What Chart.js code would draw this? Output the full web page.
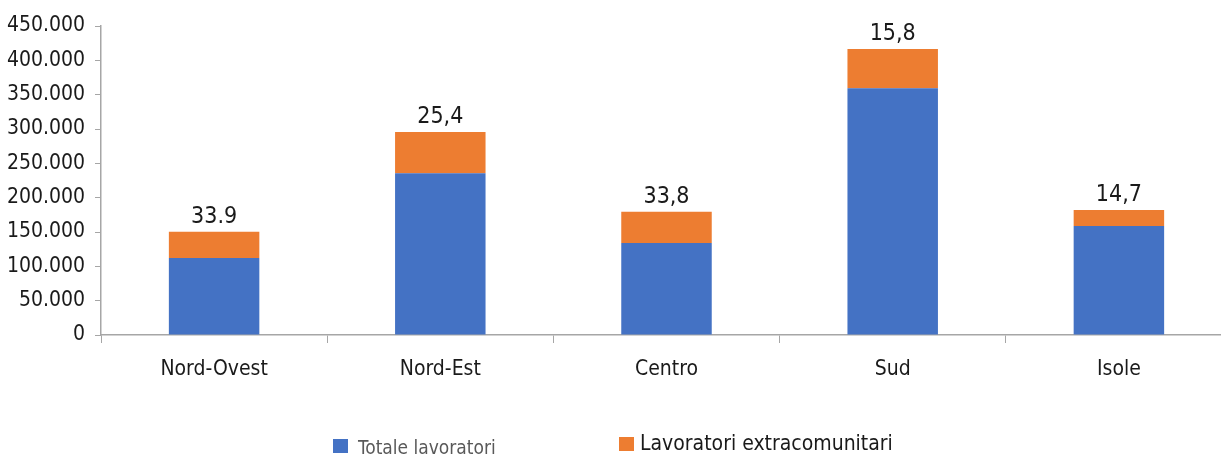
<!DOCTYPE html>
<html>
<head>
<meta charset="utf-8">
<script src="https://cdn.jsdelivr.net/npm/chart.js@4"></script>
<style>
  html, body { margin: 0; padding: 0; background: #fff; overflow: hidden; }
  #wrap { position: relative; width: 1221px; height: 455px; overflow: hidden; }
  #capacityChart { position: absolute; left: 0; top: 0; }
  .legend-box { position: absolute; width: 15px; height: 14px; }
  .legend-text { position: absolute; white-space: nowrap; line-height: 1;
                 font-family: "Liberation Sans Narrow", "Arial Narrow", "DejaVu Sans Condensed", sans-serif; }
</style>
</head>
<body>
<div id="wrap">
  <canvas id="capacityChart" width="1240" height="455"></canvas>
  <div id="legend"></div>
</div>
<script>
// Regioni e valori
const categories = ["Nord-Ovest", "Nord-Est", "Centro", "Sud", "Isole"];
const totaleLavoratori = [112000, 235500, 134000, 359500, 158700];
const extracomunitari = [38500, 60000, 45500, 57000, 23200];
const percentLabels = ["33.9", "25,4", "33,8", "15,8", "14,7"];
const yTicks = [0, 50000, 100000, 150000, 200000, 250000, 300000, 350000, 400000, 450000];

const FONT = '"Liberation Sans Narrow", "Arial Narrow", "DejaVu Sans Condensed", sans-serif';
const blue = '#4472C4';
const orange = '#ED7D31';
const axisGrey = '#A6A6A6';

// etichette percentuali sopra le colonne
const topLabels = {
    id: 'topLabels',
    afterDatasetsDraw(chart) {
        const ctx = chart.ctx;
        const meta = chart.getDatasetMeta(1);
        ctx.save();
        ctx.font = '23px ' + FONT;
        ctx.fillStyle = '#1a1a1a';
        ctx.textAlign = 'center';
        ctx.textBaseline = 'alphabetic';
        meta.data.forEach(function(bar, i) {
            ctx.fillText(percentLabels[i], bar.x, bar.y - 9);
        });
        ctx.restore();
    }
};

const ctx = document.getElementById('capacityChart').getContext('2d');
const chart = new Chart(ctx, {
    type: 'bar',
    data: {
        labels: categories,
        datasets: [
            { label: 'Totale lavoratori', data: totaleLavoratori, backgroundColor: blue },
            { label: 'Lavoratori extracomunitari', data: extracomunitari, backgroundColor: orange }
        ]
    },
    options: {
        responsive: false,
        animation: false,
        layout: { padding: { top: 26, right: 8, left: 0, bottom: 0 } },
        datasets: { bar: { barPercentage: 0.8, categoryPercentage: 0.5 } },
        plugins: {
            legend: { display: false },
            tooltip: { enabled: false }
        },
        scales: {
            x: {
                stacked: true,
                grid: { drawOnChartArea: false, color: axisGrey, tickLength: 8, offset: true },
                border: { color: axisGrey, width: 1.5 },
                ticks: { color: '#1a1a1a', font: { family: FONT, size: 21 }, padding: 14 },
                afterFit: function(scale) { scale.height = 120; }
            },
            y: {
                stacked: true,
                min: 0,
                max: 450000,
                afterBuildTicks: function(scale) { scale.ticks = yTicks.map(v => ({ value: v })); },
                grid: { drawOnChartArea: false, color: axisGrey, tickLength: 6 },
                border: { color: axisGrey, width: 1.5 },
                ticks: {
                    color: '#1a1a1a',
                    font: { family: FONT, size: 21 },
                    padding: 10,
                    callback: function(v) { return v === 0 ? '0' : v.toLocaleString('it-IT'); }
                },
                afterFit: function(scale) { scale.width = 101; }
            }
        }
    },
    plugins: [topLabels]
});

// legenda in HTML, costruita dai dataset
const legend = document.getElementById('legend');
const legendPos = [
    { boxLeft: 333, boxTop: 439, textLeft: 358, textTop: 438, size: 19, color: '#595959' },
    { boxLeft: 619, boxTop: 437, textLeft: 640, textTop: 433, size: 21, color: '#1a1a1a' }
];
chart.data.datasets.forEach(function(ds, i) {
    const p = legendPos[i];
    const box = document.createElement('div');
    box.className = 'legend-box';
    box.style.left = p.boxLeft + 'px';
    box.style.top = p.boxTop + 'px';
    box.style.background = ds.backgroundColor;
    const txt = document.createElement('div');
    txt.className = 'legend-text';
    txt.style.left = p.textLeft + 'px';
    txt.style.top = p.textTop + 'px';
    txt.style.fontSize = p.size + 'px';
    txt.style.color = p.color;
    txt.textContent = ds.label;
    legend.appendChild(box);
    legend.appendChild(txt);
});
</script>
</body>
</html>
